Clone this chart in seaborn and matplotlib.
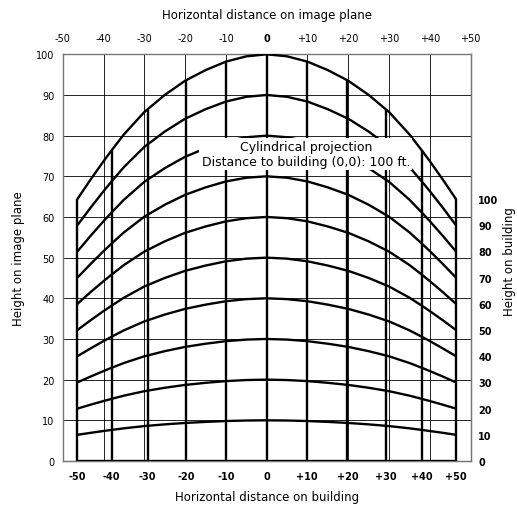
import matplotlib
matplotlib.use("Agg")
import matplotlib.pyplot as plt
import pandas as pd
import seaborn as sns

# building positions (ft) and where they fall on the image plane
building_x = [-50, -40, -30, -20, -10, 0, 10, 20, 30, 40, 50]
image_x = [-46.4, -38.0, -29.2, -19.8, -9.9, 0, 9.9, 19.8, 29.2, 38.0, 46.4]
# height of the 100 ft line at those positions, as a fraction
shrink = [0.644, 0.764, 0.862, 0.936, 0.984, 1.0, 0.984, 0.936, 0.862, 0.764, 0.644]

# the same curve read at more points along the image plane
curve_x = [-46.4, -43.1, -40, -38, -35, -30, -25, -20, -15, -10, -5, 0,
           5, 10, 15, 20, 25, 30, 35, 38, 40, 43.1, 46.4]
curve_shrink = [0.644, 0.693, 0.737, 0.764, 0.803, 0.858, 0.900, 0.935, 0.961, 0.982, 0.995, 1.0,
                0.995, 0.982, 0.961, 0.935, 0.900, 0.858, 0.803, 0.764, 0.737, 0.693, 0.644]

heights = [0, 10, 20, 30, 40, 50, 60, 70, 80, 90, 100]
image_ticks = [-50, -40, -30, -20, -10, 0, 10, 20, 30, 40, 50]
plane_ticks = [0, 10, 20, 30, 40, 50, 60, 70, 80, 90, 100]


def signed(v):
    return f"{v:+d}" if v else "0"


sns.set_style("white")
plt.rcParams['font.family'] = ['DejaVu Sans']
plt.rcParams['text.color'] = 'black'
plt.rcParams['xtick.color'] = 'black'
plt.rcParams['ytick.color'] = 'black'

# projected building lines, one curve per height
rows = []
for h in heights:
    for xi, s in zip(curve_x, curve_shrink):
        rows.append({'height': h, 'x': xi, 'y': h * s})
df = pd.DataFrame(rows)

fig = plt.figure(figsize=(5.17, 5.06), dpi=100)
ax = fig.add_axes([0.1213, 0.087, 0.7891, 0.8037])

sns.lineplot(data=df, x='x', y='y', units='height', estimator=None, sort=False,
             color='black', lw=1.7, legend=False, ax=ax, zorder=3)
ax.vlines(image_x, 0, [100 * s for s in shrink], color='black', lw=1.7, zorder=3)

ax.set_xlim(-50, 50)
ax.set_ylim(0, 100)
ax.set_xlabel('')
ax.set_ylabel('')

# image-plane grid on top/left
ax.xaxis.tick_top()
ax.set_xticks(image_ticks, [signed(v) for v in image_ticks])
ax.set_yticks(plane_ticks, [str(v) for v in plane_ticks])
ax.grid(True, color='black', lw=0.6, zorder=1)
ax.tick_params(axis='x', length=0, labelsize=7, pad=8)
ax.tick_params(axis='y', length=0, labelsize=7, pad=6)
for lab in ax.get_xticklabels():
    if lab.get_text() == '0':
        lab.set_fontweight('bold')
for sp in ax.spines.values():
    sp.set_color('#777777')
    sp.set_linewidth(1.0)

# building coordinates on bottom/right
bot = ax.secondary_xaxis('bottom')
bot.set_xticks(image_x, [signed(v) for v in building_x])
bot.tick_params(length=0, labelsize=7, pad=7)
for lab in bot.get_xticklabels():
    lab.set_fontweight('bold')
bot.spines['bottom'].set_color('#777777')

right = ax.secondary_yaxis('right')
right.set_yticks([h * shrink[-1] for h in heights], [str(h) for h in heights])
right.tick_params(length=0, labelsize=7, pad=5.5)
for lab in right.get_yticklabels():
    lab.set_fontweight('bold')
right.spines['right'].set_color('#777777')

ax.text(9.6, 75.5, "Cylindrical projection\nDistance to building (0,0): 100 ft.",
        ha='center', va='center', multialignment='center', fontsize=9, zorder=5,
        bbox=dict(facecolor='white', edgecolor='none', pad=1.5))

fig.text(266.7 / 517, 1 - 15 / 506, "Horizontal distance on image plane",
         ha='center', va='center', fontsize=8.5)
fig.text(266.7 / 517, 1 - 498 / 506, "Horizontal distance on building",
         ha='center', va='center', fontsize=8.5)
fig.text(18.3 / 517, 1 - 259 / 506, "Height on image plane",
         ha='center', va='center', rotation=90, fontsize=8.5)
fig.text(510 / 517, 1 - 262 / 506, "Height on building",
         ha='center', va='center', rotation=90, fontsize=8.5)

fig.savefig("out.png", dpi=100)
